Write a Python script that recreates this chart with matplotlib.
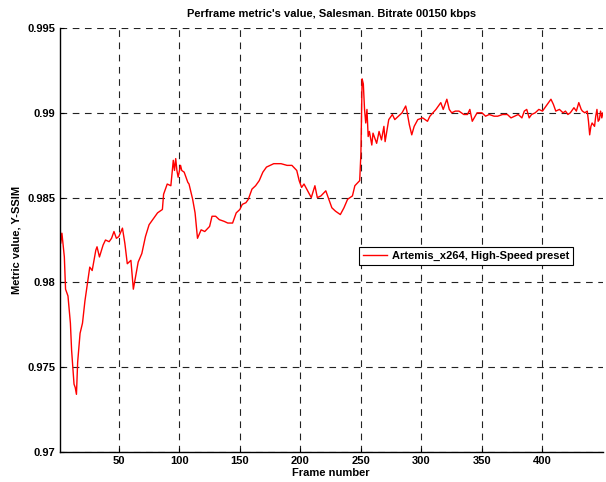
import matplotlib
matplotlib.use("Agg")
import matplotlib.pyplot as plt

plt.rcParams['font.family'] = ['Liberation Sans', 'DejaVu Sans']

title = "Perframe metric's value, Salesman. Bitrate 00150 kbps"
xlabel = "Frame number"
ylabel = "Metric value, Y-SSIM"
series_name = "Artemis_x264, High-Speed preset"

frames = [1, 2, 3, 5, 6, 8, 10, 11, 13, 14, 15, 16, 18, 20, 22, 24, 26, 28, 31, 32,
          34, 37, 39, 42, 44, 46, 48, 50, 53, 55, 57, 60, 62, 64, 66, 69, 72, 75, 78, 82,
          86, 87, 90, 93, 95, 96, 97, 98, 99, 101, 102, 104, 107, 108, 111, 113, 115, 118, 121, 125,
          127, 130, 133, 137, 140, 144, 147, 150, 152, 155, 157, 160, 163, 166, 169, 172, 178, 184, 189, 193,
          197, 199, 201, 203, 206, 209, 212, 214, 217, 221, 223, 226, 229, 233, 236, 239, 243, 245, 249, 250,
          251, 252, 253, 254, 255, 256, 257, 259, 260, 263, 265, 267, 269, 270, 273, 276, 278, 281, 284, 287,
          288, 290, 292, 294, 297, 301, 305, 307, 312, 316, 318, 321, 323, 325, 328, 331, 335, 338, 340, 342,
          346, 350, 353, 356, 360, 363, 367, 371, 374, 377, 380, 383, 385, 387, 389, 391, 394, 397, 400, 402,
          405, 407, 409, 411, 414, 417, 419, 421, 423, 426, 428, 430, 432, 433, 435, 437, 438, 439, 440, 441,
          443, 444, 445, 446, 447, 448, 449, 450]

values = [0.9847, 0.9823, 0.9829, 0.9815, 0.9796, 0.9792, 0.9776, 0.9760, 0.9740, 0.9738, 0.9734, 0.9753, 0.9770, 0.9776, 0.9789, 0.9799, 0.9809, 0.9807, 0.9819, 0.9821,
          0.9815, 0.9822, 0.9825, 0.9824, 0.9826, 0.9830, 0.9826, 0.9827, 0.9832, 0.9823, 0.9811, 0.9813, 0.9796, 0.9804, 0.9812, 0.9817, 0.9827, 0.9834, 0.9837, 0.9841,
          0.9843, 0.9852, 0.9858, 0.9857, 0.9872, 0.9866, 0.9873, 0.9866, 0.9862, 0.9869, 0.9866, 0.9865, 0.9859, 0.9858, 0.9849, 0.9841, 0.9826, 0.9831, 0.9830, 0.9833,
          0.9839, 0.9839, 0.9837, 0.9836, 0.9835, 0.9835, 0.9841, 0.9843, 0.9846, 0.9847, 0.9849, 0.9855, 0.9857, 0.9860, 0.9865, 0.9868, 0.9870, 0.9870, 0.9869, 0.9869,
          0.9866, 0.9860, 0.9856, 0.9858, 0.9854, 0.9850, 0.9857, 0.9850, 0.9851, 0.9854, 0.9850, 0.9844, 0.9842, 0.9840, 0.9844, 0.9849, 0.9851, 0.9857, 0.9860, 0.9876,
          0.9920, 0.9917, 0.9902, 0.9894, 0.9902, 0.9886, 0.9889, 0.9881, 0.9888, 0.9882, 0.9889, 0.9884, 0.9892, 0.9883, 0.9896, 0.9899, 0.9896, 0.9898, 0.9900, 0.9904,
          0.9901, 0.9893, 0.9887, 0.9892, 0.9896, 0.9897, 0.9895, 0.9898, 0.9902, 0.9906, 0.9902, 0.9908, 0.9902, 0.9900, 0.9901, 0.9901, 0.9899, 0.9899, 0.9902, 0.9895,
          0.9900, 0.9900, 0.9898, 0.9899, 0.9898, 0.9898, 0.9899, 0.9899, 0.9897, 0.9898, 0.9899, 0.9897, 0.9901, 0.9902, 0.9897, 0.9899, 0.9900, 0.9902, 0.9901, 0.9903,
          0.9906, 0.9908, 0.9905, 0.9901, 0.9902, 0.9900, 0.9901, 0.9899, 0.9900, 0.9903, 0.9901, 0.9906, 0.9902, 0.9901, 0.9900, 0.9901, 0.9895, 0.9887, 0.9892, 0.9894,
          0.9892, 0.9898, 0.9902, 0.9895, 0.9896, 0.9901, 0.9897, 0.9900]

xticks = [50, 100, 150, 200, 250, 300, 350, 400]
yticks = [0.97, 0.975, 0.98, 0.985, 0.99, 0.995]
ytick_labels = ["0.97", "0.975", "0.98", "0.985", "0.99", "0.995"]

fig = plt.figure(figsize=(6.06, 4.82), dpi=100)
ax = fig.add_axes([59.5 / 606, 30 / 482, (603 - 59.5) / 606, (452 - 28) / 482])

ax.plot(frames, values, color='red', linewidth=1.0, label=series_name)

ax.set_xlim(1, 450)
ax.set_ylim(0.97, 0.995)
ax.set_xticks(xticks)
ax.set_xticklabels([str(t) for t in xticks], fontsize=8, fontweight='bold')
ax.set_yticks(yticks)
ax.set_yticklabels(ytick_labels, fontsize=8, fontweight='bold')
ax.tick_params(direction='in', length=3, width=0.8, pad=3, colors='black')

ax.grid(True, color='#222222', linestyle=(0, (6, 5)), linewidth=0.8)
ax.set_axisbelow(True)

for s in ['top', 'right']:
    ax.spines[s].set_visible(False)
for s in ['left', 'bottom']:
    ax.spines[s].set_linewidth(1.0)
    ax.spines[s].set_color('black')

ax.set_title(title, fontsize=8, fontweight='bold', pad=8)
ax.set_xlabel(xlabel, fontsize=8, fontweight='bold', labelpad=1)
ax.set_ylabel(ylabel, fontsize=8, fontweight='bold', labelpad=4)

leg = ax.legend(loc='center left', bbox_to_anchor=(0.551, 0.462), frameon=True,
                fancybox=False, edgecolor='black', framealpha=1,
                prop={'size': 8, 'weight': 'bold'}, handlelength=2.2,
                borderpad=0.35, handletextpad=0.4, borderaxespad=0)
leg.get_frame().set_linewidth(0.8)

fig.savefig('out.png', dpi=100, facecolor='white')
